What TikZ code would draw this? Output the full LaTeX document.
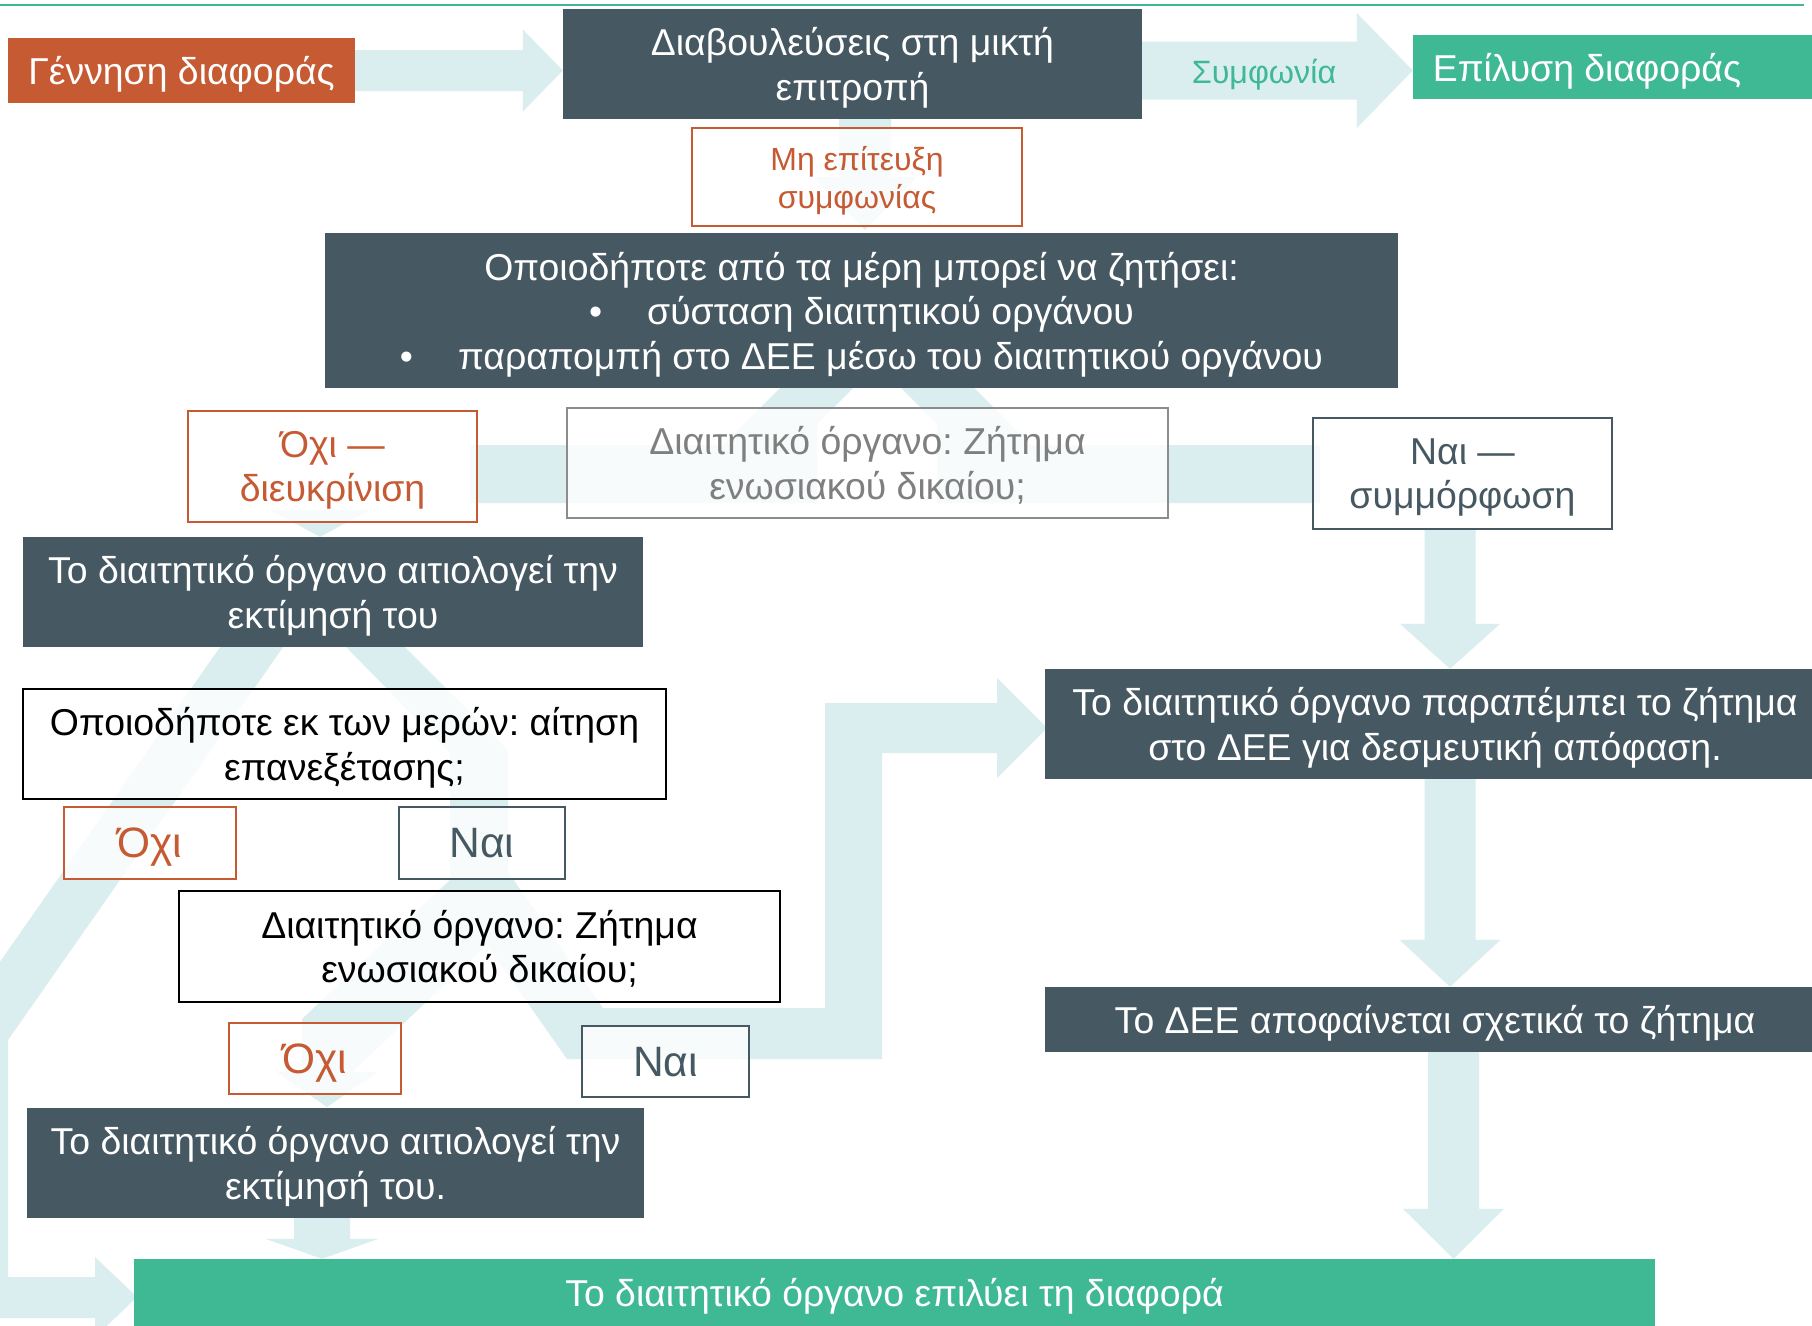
\documentclass[tikz,border=0pt]{standalone}
\usepackage{fontspec}
\setmainfont{Liberation Sans}
\usetikzlibrary{calc}
\frenchspacing
\definecolor{slate}{HTML}{465861}
\definecolor{orangec}{HTML}{C55A33}
\definecolor{greenc}{HTML}{3FB994}
\definecolor{flowc}{HTML}{DAEDEF}
\definecolor{grayb}{HTML}{8C8C8C}
\definecolor{grayt}{HTML}{7F7F7F}
\pgfdeclarelayer{bg}
\pgfsetlayers{bg,main}
\newcommand\fsbig{\fontsize{37.4}{44.5}\selectfont}
\newcommand\fssmall{\fontsize{32}{38}\selectfont}
\newcommand\fsagr{\fontsize{32.3}{38}\selectfont}
\newcommand\fsyn{\fontsize{42.5}{48}\selectfont}
% right-pointing block arrow: start, tip, half shaft, half head, head length
\newcommand\rblock[5]{\fill[flow] ($(#1)+(0,-#3)$) -- ($(#2)+(-#5,-#3)$) -- ($(#2)+(-#5,-#4)$) -- (#2) -- ($(#2)+(-#5,#4)$) -- ($(#2)+(-#5,#3)$) -- ($(#1)+(0,#3)$) -- cycle;}
% down-pointing block arrow: start, tip, half shaft, half head, head length
\newcommand\dblock[5]{\fill[flow] ($(#1)+(-#3,0)$) -- ($(#2)+(-#3,-#5)$) -- ($(#2)+(-#4,-#5)$) -- (#2) -- ($(#2)+(#4,-#5)$) -- ($(#2)+(#3,-#5)$) -- ($(#1)+(#3,0)$) -- cycle;}
\tikzset{
  base/.style={rectangle, inner sep=0pt, align=center, font=\fsbig, text depth=0pt},
  darkbox/.style={base, fill=slate, text=white},
  orangebox/.style={base, fill=orangec, text=white},
  greenbox/.style={base, fill=greenc, text=white},
  wbox/.style={base, fill=white, fill opacity=0.8, text opacity=1, line width=2pt},
  obox/.style={wbox, draw=orangec, text=orangec},
  sbox/.style={wbox, draw=slate, text=slate},
  kbox/.style={wbox, draw=black, text=black},
  gbox/.style={wbox, draw=grayb, text=grayt},
  flow/.style={fill=flowc},
  plain/.style={inner sep=0pt, align=center, font=\fsbig, text depth=0pt},
}
\begin{document}
\begin{tikzpicture}[x=1pt,y=-1pt]
\useasboundingbox (0,0) rectangle (1812,1325);
\clip (0,0) rectangle (1812,1325);
\draw[greenc, line width=2pt] (0,5) -- (1804,5);

% ---- nodes ----
\node[orangebox, minimum width=347pt, minimum height=65pt] (gen) at (181.5,70.5) {Γέννηση διαφοράς};
\node[darkbox, minimum width=579pt, minimum height=110pt] (cons) at (852.5,64) {Διαβουλεύσεις στη μικτή\\επιτροπή};
\node[greenbox, minimum width=399pt, minimum height=64pt] (res) at (1612.5,67) {};
\node[plain, text=white] (restext) at (1587,67) {Επίλυση διαφοράς};
\node[plain, font=\fsagr, text=greenc] (agr) at (1264,71) {Συμφωνία};
\node[obox, font=\fssmall, minimum width=330pt, minimum height=98pt] (nofail) at (857,177) {Μη επίτευξη\\συμφωνίας};
\node[darkbox, minimum width=1073pt, minimum height=155pt] (any) at (861.5,310.5) {Οποιοδήποτε από τα μέρη μπορεί να ζητήσει:\\•\hspace{45pt}σύσταση διαιτητικού οργάνου\\•\hspace{45pt}παραπομπή στο ΔΕΕ μέσω του διαιτητικού οργάνου};
\node[obox, minimum width=289pt, minimum height=111pt] (ochi1) at (332.5,466.5) {Όχι —\\διευκρίνιση};
\node[gbox, minimum width=601pt, minimum height=110pt] (q1) at (867.5,463) {Διαιτητικό όργανο: Ζήτημα\\ενωσιακού δικαίου;};
\node[sbox, minimum width=299pt, minimum height=111pt] (nai1) at (1462.5,473.5) {Ναι —\\συμμόρφωση};
\node[darkbox, minimum width=620pt, minimum height=110pt] (just1) at (333,592) {Το διαιτητικό όργανο αιτιολογεί την\\εκτίμησή του};
\node[kbox, minimum width=643pt, minimum height=110pt] (review) at (344.5,744) {Οποιοδήποτε εκ των μερών: αίτηση\\επανεξέτασης;};
\node[obox, font=\fsyn, minimum width=172pt, minimum height=72pt] (ochi2) at (150,843) {Όχι};
\node[sbox, font=\fsyn, minimum width=166pt, minimum height=72pt] (nai2) at (482,843) {Ναι};
\node[kbox, minimum width=601pt, minimum height=111pt] (q2) at (479.5,946.5) {Διαιτητικό όργανο: Ζήτημα\\ενωσιακού δικαίου;};
\node[obox, font=\fsyn, minimum width=172pt, minimum height=71pt] (ochi3) at (315,1058.5) {Όχι};
\node[sbox, font=\fsyn, minimum width=167pt, minimum height=71pt] (nai3) at (665.5,1061.5) {Ναι};
\node[darkbox, minimum width=617pt, minimum height=110pt] (just2) at (335.5,1163) {Το διαιτητικό όργανο αιτιολογεί την\\εκτίμησή του.};
\node[darkbox, minimum width=780pt, minimum height=110pt] (refer) at (1435,724) {Το διαιτητικό όργανο παραπέμπει το ζήτημα\\στο ΔΕΕ για δεσμευτική απόφαση.};
\node[darkbox, minimum width=780pt, minimum height=65pt] (cjeu) at (1435,1019.5) {Το ΔΕΕ αποφαίνεται σχετικά το ζήτημα};
\node[greenbox, minimum width=1521pt, minimum height=71pt] (final) at (894.5,1294.5) {};
\node[plain, text=white] (finaltext) at (894.5,1292) {Το διαιτητικό όργανο επιλύει τη διαφορά};

% ---- faint flow arrows (behind) ----
\begin{pgfonlayer}{bg}
\clip (0,0) rectangle (1812,1325);
\fill[white] (0,0) rectangle (1812,1325);
\coordinate (a1t) at (cons.west |- gen.east);
\rblock{gen.east}{a1t}{20.5}{41}{40}
\coordinate (a2t) at ($(res.west)+(0,3.5)$);
\coordinate (a2s) at (cons.east |- a2t);
\rblock{a2s}{a2t}{29}{57.5}{56}
\coordinate (a3x) at (865,0);
\coordinate (a3s) at (cons.south -| a3x);
\coordinate (a3t) at ($(any.north -| a3x)+(0,-3)$);
\dblock{a3s}{a3t}{26}{52}{53}
\coordinate (a4x) at (1450,0);
\coordinate (a4s) at (nai1.south -| a4x);
\coordinate (a4t) at (refer.north -| a4x);
\dblock{a4s}{a4t}{25.5}{50}{45}
\coordinate (a5s) at (refer.south -| a4x);
\coordinate (a5t) at (cjeu.north -| a4x);
\dblock{a5s}{a5t}{25.5}{50.5}{47}
\coordinate (a6x) at (1453.5,0);
\coordinate (a6s) at (cjeu.south -| a6x);
\coordinate (a6t) at (final.north -| a6x);
\dblock{a6s}{a6t}{25.5}{50.5}{50}
\coordinate (a7x) at (322,0);
\coordinate (a7s) at (just2.south -| a7x);
\coordinate (a7t) at (final.north -| a7x);
\dblock{a7s}{a7t}{28}{56.5}{20}
\coordinate (a8x) at (320,0);
\coordinate (a8t) at (just1.north -| a8x);
\coordinate (a8s) at ($(a8t)+(0,-27)$);
\dblock{a8s}{a8t}{24}{50}{27}
% split under "any"
\fill[flow] (808,360) -- (723,445) -- (470,445) -- (470,503) -- (817,503) -- (817,424) -- (881,360) -- cycle;
\fill[flow] (946,360) -- (1031,445) -- (1320,445) -- (1320,503) -- (937,503) -- (937,424) -- (873,360) -- cycle;
% left route from just1 to final
\fill[flow] (253,600) -- (-40,1019) -- (-40,1318) -- (95,1318) -- (95,1337) -- (137,1297) -- (95,1257) -- (95,1277) -- (8,1277) -- (8,1040) -- (316,600) -- cycle;
% right route from just1 through q2 to refer
\fill[flow] (300,600) -- (358,600) -- (508,750) -- (508,872) -- (603,1008) -- (825,1008) -- (825,703) -- (997,703) -- (997,678) -- (1047,728) -- (997,778) -- (997,753) -- (882,753) -- (882,1059) -- (567,1059) -- (450,892) -- (450,753) -- cycle;
% lower left leg to just2
\fill[flow] (450,856) -- (508,856) -- (508,925) -- (352,1072) -- (377,1072) -- (327,1107) -- (277,1072) -- (302,1072) -- (302,1019) -- (450,880) -- cycle;
\end{pgfonlayer}
\end{tikzpicture}
\end{document}
